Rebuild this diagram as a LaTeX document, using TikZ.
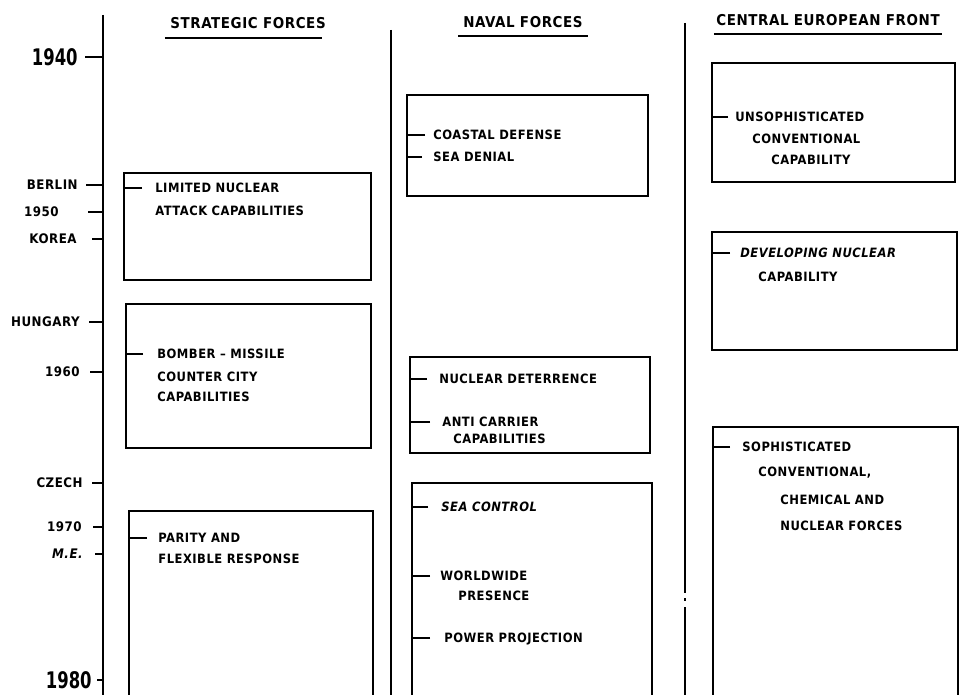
\documentclass[tikz,border=0pt]{standalone}
\usepackage{fontspec}
\usetikzlibrary{calc}
\newfontfamily\chartfont[ItalicFont={DejaVu Sans Condensed Bold Oblique}, LetterSpace=4.0]{DejaVu Sans Condensed Bold}
\newfontfamily\yearfont[FakeStretch=0.8]{DejaVu Sans Condensed Bold}
\tikzset{
  rule/.style={draw=black, line width=1.5pt},
  panel/.style={draw=black, line width=1.5pt, line join=miter},
  tick/.style={draw=black, line width=1pt},
  uline/.style={draw=black, line width=1.1pt},
  item/.style={inner sep=0pt, anchor=west, text height=5.3pt, text depth=0pt, font=\chartfont\fontsize{7.3}{8.5}\selectfont},
  event/.style={inner sep=0pt, anchor=east, text height=5.4pt, text depth=0pt, font=\chartfont\fontsize{7.5}{9}\selectfont},
  decade/.style={inner sep=0pt, anchor=east, text height=9.5pt, text depth=0pt, font=\yearfont\fontsize{13}{15}\selectfont},
  head/.style={inner sep=0pt, text height=6.2pt, text depth=0pt, font=\chartfont\fontsize{8.5}{10}\selectfont}
}

\begin{document}
\begin{tikzpicture}[x=0.02cm, y=-0.02cm]
\useasboundingbox (0,0) rectangle (970,695);
% ---- time axis and column rules ----
\coordinate (axisT) at (103,15);
\coordinate (axisB) at (103,695);
\coordinate (navT) at (391,30);
\coordinate (navB) at (391,695);
\coordinate (cefT) at (685,23);
\coordinate (cefB) at (685,695);
\draw[rule] (axisT) -- (axisB);
\draw[rule] (navT) -- (navB);
\draw[rule] (cefT) -- (685,593) (685,607) -- (cefB);
\draw[tick] (685,598) -- (685,601);
% ---- headings ----
\node[head] (hStrat) at (248,23) {STRATEGIC FORCES};
\draw[uline] ($(hStrat.south west)+(-5,9)$) -- ($(hStrat.south east)+(-4,9)$);
\node[head] (hNaval) at (523,22) {NAVAL FORCES};
\draw[uline] ($(hNaval.south west)+(-5,8)$) -- ($(hNaval.south east)+(5,8)$);
\node[head] (hCef) at (828,20) {CENTRAL EUROPEAN FRONT};
\draw[uline] ($(hCef.south west)+(-2,8)$) -- ($(hCef.south east)+(2,8)$);
% ---- events on the time axis ----
\node[decade] (y1940) at (78,57) {1940};
\draw[tick] (y1940.east) ++(7,0) -- (y1940.east -| axisT);
\node[event] (berlin) at (78,185) {BERLIN};
\draw[tick] (berlin.east) ++(8,0) -- (berlin.east -| axisT);
\node[event] (y1950) at (59,212) {1950};
\draw[tick] (y1950.east) ++(29,0) -- (y1950.east -| axisT);
\node[event] (korea) at (77,239) {KOREA};
\draw[tick] (korea.east) ++(15,0) -- (korea.east -| axisT);
\node[event] (hungary) at (80,322) {HUNGARY};
\draw[tick] (hungary.east) ++(9,0) -- (hungary.east -| axisT);
\node[event] (y1960) at (80,372) {1960};
\draw[tick] (y1960.east) ++(10,0) -- (y1960.east -| axisT);
\node[event] (czech) at (83,483) {CZECH};
\draw[tick] (czech.east) ++(9,0) -- (czech.east -| axisT);
\node[event] (y1970) at (82,527) {1970};
\draw[tick] (y1970.east) ++(11,0) -- (y1970.east -| axisT);
\node[event, font=\chartfont\itshape\fontsize{7.5}{9}\selectfont] (mideast) at (83,554) {M.E.};
\draw[tick] (mideast.east) ++(12,0) -- (mideast.east -| axisT);
\node[decade] (y1980) at (92,680) {1980};
\draw[tick] (y1980.east) ++(5,0) -- (y1980.east -| axisT);
% ---- strategic forces ----
\coordinate (sb1) at (124,173);
\draw[panel] (sb1) rectangle (371,280);
\node[item] (limited) at (155,188) {LIMITED NUCLEAR};
\node[item] (attack) at (155,211) {ATTACK CAPABILITIES};
\draw[tick] (limited.west) ++(-13,0) -- (limited.west -| sb1);
\coordinate (sb2) at (126,304);
\draw[panel] (sb2) rectangle (371,448);
\node[item] (bomber) at (157,354) {BOMBER – MISSILE};
\node[item] (city) at (157,377) {COUNTER CITY};
\node[item] (capab) at (157,397) {CAPABILITIES};
\draw[tick] (bomber.west) ++(-14,0) -- (bomber.west -| sb2);
\coordinate (sb3) at (129,511);
\draw[panel] (129,695) -- (sb3) -- (373,511) -- (373,695);
\node[item] (parity) at (158,538) {PARITY AND};
\node[item] (flex) at (158,559) {FLEXIBLE RESPONSE};
\draw[tick] (parity.west) ++(-11,0) -- (parity.west -| sb3);
% ---- naval forces ----
\coordinate (nb1) at (407,95);
\draw[panel] (nb1) rectangle (648,196);
\node[item] (coastal) at (433,135) {COASTAL DEFENSE};
\node[item] (denial) at (433,157) {SEA DENIAL};
\draw[tick] (coastal.west) ++(-8,0) -- (coastal.west -| nb1);
\draw[tick] (denial.west) ++(-11,0) -- (denial.west -| nb1);
\coordinate (nb2) at (410,357);
\draw[panel] (nb2) rectangle (650,453);
\node[item] (deter) at (439,379) {NUCLEAR DETERRENCE};
\node[item] (anti) at (442,422) {ANTI CARRIER};
\node[item] (carcap) at (453,439) {CAPABILITIES};
\draw[tick] (deter.west) ++(-12,0) -- (deter.west -| nb2);
\draw[tick] (anti.west) ++(-12,0) -- (anti.west -| nb2);
\coordinate (nb3) at (412,483);
\draw[panel] (412,695) -- (nb3) -- (652,483) -- (652,695);
\node[item, font=\chartfont\itshape\fontsize{7.3}{8.5}\selectfont] (control) at (441,507) {SEA CONTROL};
\node[item] (world) at (440,576) {WORLDWIDE};
\node[item] (presence) at (458,596) {PRESENCE};
\node[item] (power) at (444,638) {POWER PROJECTION};
\draw[tick] (control.west) ++(-13,0) -- (control.west -| nb3);
\draw[tick] (world.west) ++(-10,0) -- (world.west -| nb3);
\draw[tick] (power.west) ++(-14,0) -- (power.west -| nb3);
% ---- central european front ----
\coordinate (cb1) at (712,63);
\draw[panel] (cb1) rectangle (955,182);
\node[item] (unsoph) at (735,117) {UNSOPHISTICATED};
\node[item] (conv) at (752,139) {CONVENTIONAL};
\node[item] (convcap) at (771,160) {CAPABILITY};
\draw[tick] (unsoph.west) ++(-7,0) -- (unsoph.west -| cb1);
\coordinate (cb2) at (712,232);
\draw[panel] (cb2) rectangle (957,350);
\node[item, font=\chartfont\itshape\fontsize{7.3}{8.5}\selectfont] (develop) at (740,253) {DEVELOPING NUCLEAR};
\node[item] (nuccap) at (758,277) {CAPABILITY};
\draw[tick] (develop.west) ++(-10,0) -- (develop.west -| cb2);
\coordinate (cb3) at (713,427);
\draw[panel] (713,695) -- (cb3) -- (958,427) -- (958,695);
\node[item] (soph) at (742,447) {SOPHISTICATED};
\node[item] (sconv) at (758,472) {CONVENTIONAL,};
\node[item] (chem) at (780,500) {CHEMICAL AND};
\node[item] (nucforce) at (780,526) {NUCLEAR FORCES};
\draw[tick] (soph.west) ++(-12,0) -- (soph.west -| cb3);
\end{tikzpicture}
\end{document}
